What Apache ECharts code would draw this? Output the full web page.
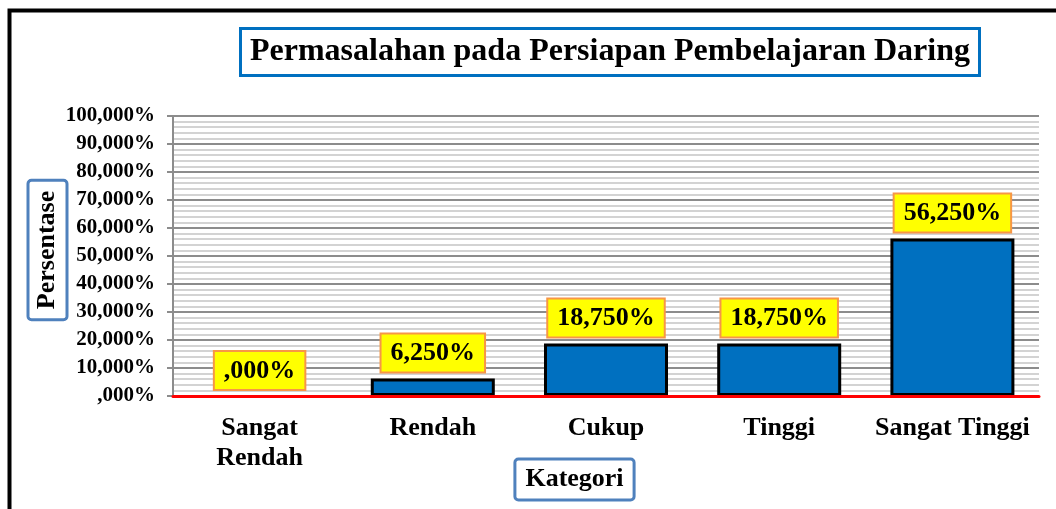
<!DOCTYPE html>
<html>
<head>
<meta charset="utf-8">
<script src="https://cdn.jsdelivr.net/npm/echarts@6/dist/echarts.min.js"></script>
<style>html,body{margin:0;padding:0;background:#fff}#c{width:1056px;height:509px}</style>
</head>
<body>
<div id="c"></div>
<script>
var categories = ['Sangat\nRendah', 'Rendah', 'Cukup', 'Tinggi', 'Sangat Tinggi'];
var values = [0, 6.25, 18.75, 18.75, 56.25];
var titleText = 'Permasalahan pada Persiapan Pembelajaran Daring';
var yName = 'Persentase';
var xName = 'Kategori';

var FONT = "'Liberation Serif','Times New Roman',serif";
function fmt(v) {
  var s = Number(v).toFixed(3).replace('.', ',');
  if (s.indexOf('0,') === 0) s = s.substring(1);
  return s + '%';
}

var barData = values.map(function (v) {
  return v === 0 ? {value: v, itemStyle: {borderWidth: 0}} : v;
});

var chart = echarts.init(document.getElementById('c'), null, {renderer: 'canvas'});
chart.setOption({
  animation: false,
  backgroundColor: '#fff',
  title: {
    text: titleText,
    left: 240, top: 28,
    padding: [7, 10, 7, 10],
    borderColor: '#0070C0', borderWidth: 3,
    textStyle: {fontFamily: FONT, fontWeight: 'bold', fontSize: 32, color: '#000', lineHeight: 34}
  },
  grid: {left: 173, right: 17, top: 116, bottom: 113, containLabel: false},
  xAxis: {
    type: 'category',
    data: categories,
    z: 5,
    axisLine: {show: true, lineStyle: {color: '#ff0000', width: 3}},
    axisTick: {show: false},
    axisLabel: {interval: 0, margin: 17, fontFamily: FONT, fontWeight: 'bold', fontSize: 26, lineHeight: 30, color: '#000'},
    splitLine: {show: false}
  },
  yAxis: {
    type: 'value',
    min: 0, max: 100, interval: 10,
    axisLine: {show: true, lineStyle: {color: '#8c8c8c', width: 2}},
    axisTick: {show: true, length: 6, lineStyle: {color: '#8c8c8c', width: 2}},
    axisLabel: {margin: 18, fontFamily: FONT, fontWeight: 'bold', fontSize: 21, color: '#000', formatter: fmt},
    splitLine: {show: true, lineStyle: {color: '#8c8c8c', width: 2}},
    minorTick: {show: false, splitNumber: 5},
    minorSplitLine: {show: true, lineStyle: {color: '#c4c4c4', width: 1.6}}
  },
  series: [{
    type: 'bar',
    data: barData,
    barWidth: 124,
    itemStyle: {color: '#0070C0', borderColor: '#000', borderWidth: 3},
    label: {
      show: true, position: 'top', distance: 7,
      formatter: function (p) { return fmt(p.value); },
      fontFamily: FONT, fontWeight: 'bold', fontSize: 26, color: '#000', lineHeight: 28,
      backgroundColor: '#ffff00', borderColor: '#F79646', borderWidth: 2,
      padding: [5, 9, 4, 9]
    }
  }],
  graphic: [
    {type: 'rect', shape: {x: 9.5, y: 10.5, width: 1200, height: 700}, style: {fill: 'none', stroke: '#000', lineWidth: 4}, silent: true, z: 100},
    {type: 'text', x: 47.5, y: 250, rotation: Math.PI / 2,
      style: {text: yName, font: 'bold 26px ' + FONT, fill: '#000', align: 'center', verticalAlign: 'middle',
        backgroundColor: '#fff', borderColor: '#4F81BD', borderWidth: 3, borderRadius: 2, padding: [6, 9, 4, 9]}},
    {type: 'text', x: 574.5, y: 479.5,
      style: {text: xName, font: 'bold 26px ' + FONT, fill: '#000', align: 'center', verticalAlign: 'middle',
        backgroundColor: '#fff', borderColor: '#4F81BD', borderWidth: 3, borderRadius: 2, padding: [7, 9, 5, 9]}}
  ]
});
</script>
</body>
</html>
